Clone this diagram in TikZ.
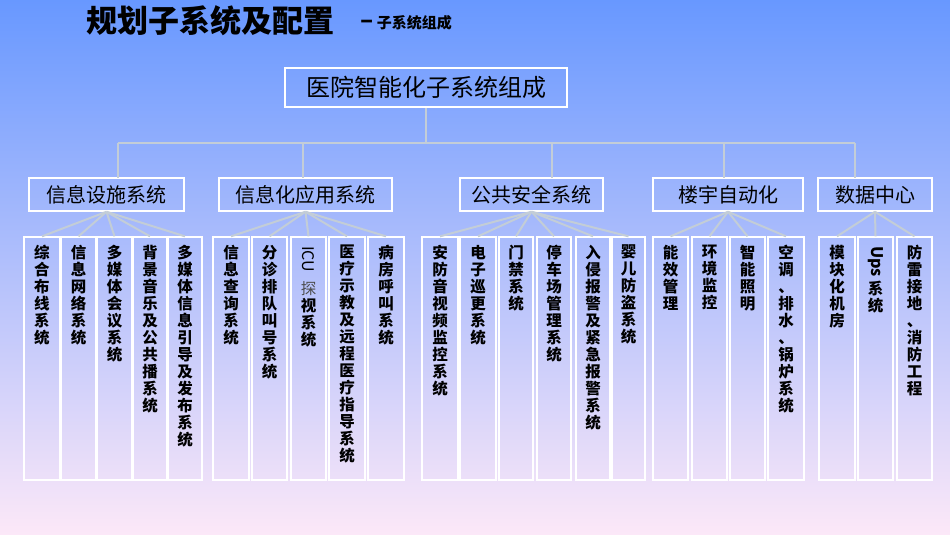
\documentclass[tikz,border=0pt]{standalone}
\usepackage{fontspec}
\setmainfont{Noto Sans CJK SC}
\definecolor{bgtop}{RGB}{104,152,255}
\definecolor{bgbot}{RGB}{252,232,248}
\definecolor{fan}{RGB}{195,205,215}
\begin{document}
\begin{tikzpicture}[x=1pt,y=-1pt,
  conn/.style={draw=fan,line width=2pt},
  rootbox/.style={draw=white,line width=1.5pt,inner sep=0pt,font=\fontsize{24}{26}\selectfont},
  midbox/.style={draw=white,line width=1.5pt,inner sep=0pt,font=\fontsize{20}{22}\selectfont},
  leafbox/.style={draw=white,line width=1.3pt},
  leaftext/.style={anchor=north,align=center,inner sep=0pt,font=\fontsize{15.5}{17}\selectfont\bfseries},
  rottext/.style={anchor=west,rotate=-90,inner sep=0pt,font=\fontsize{16}{16}\selectfont}]
\shade[top color=bgtop,bottom color=bgbot] (0,0) rectangle (950,535);
\useasboundingbox (0,0) rectangle (950,535);
\node[anchor=west,inner sep=0pt,font=\fontsize{31}{33}\selectfont\bfseries] (title) at (86,21) {规划子系统及配置};
\node[anchor=west,inner sep=0pt,font=\fontsize{15}{17}\selectfont\bfseries] (sub) at (360,23) {{\fontsize{24}{24}\selectfont –}\ 子系统组成};
% root
\node[rootbox,minimum width=282,minimum height=39] (root) at (426,87.5) {医院智能化子系统组成};
\coordinate (bl) at (118,143); \coordinate (br) at (855,143);
\draw[conn] (root.south) -- (426,143);
\draw[conn] (bl) -- (br);
% mid boxes
\node[midbox,minimum width=155,minimum height=33] (m1) at (106.5,194.5) {信息设施系统};
\node[midbox,minimum width=173,minimum height=33] (m2) at (305.5,194.5) {信息化应用系统};
\node[midbox,minimum width=143,minimum height=33] (m3) at (531.5,194.5) {公共安全系统};
\node[midbox,minimum width=150,minimum height=33] (m4) at (728,194.5) {楼宇自动化};
\node[midbox,minimum width=114,minimum height=33] (m5) at (875,194.5) {数据中心};
\foreach \x in {118,303,552,724,855} \draw[conn] (\x,143) -- (\x,177.5);
% leaves
\newcommand\leaf[5]{% name, left, right, text top, text
  \node[leafbox,minimum width={#3-#2},minimum height=243,inner sep=0pt] (#1) at ({(#2+#3)/2},358.5) {};
  \node[leaftext] (#1t) at ({(#2+#3)/2},#4) {#5};}
\leaf{a1}{24}{60}{245}{综\\合\\布\\线\\系\\统}
\leaf{a2}{61}{96}{245}{信\\息\\网\\络\\系\\统}
\leaf{a3}{97}{132}{245}{多\\媒\\体\\会\\议\\系\\统}
\leaf{a4}{133}{167}{245}{背\\景\\音\\乐\\及\\公\\共\\播\\系\\统}
\leaf{a5}{168}{202}{245}{多\\媒\\体\\信\\息\\引\\导\\及\\发\\布\\系\\统}
\leaf{b1}{213}{249}{245}{信\\息\\查\\询\\系\\统}
\leaf{b2}{252}{287}{245}{分\\诊\\排\\队\\叫\\号\\系\\统}
\leaf{b3}{291}{326}{281}{\mdseries\color{gray!60!black}探\\视\\系\\统}
\node[rottext] (b3r) at (b3t.north |- 0,246) {ICU};
\leaf{b4}{329}{365}{245}{医\\疗\\示\\教\\及\\远\\程\\医\\疗\\指\\导\\系\\统}
\leaf{b5}{368}{404}{245}{病\\房\\呼\\叫\\系\\统}
\leaf{c1}{422}{458}{245}{安\\防\\音\\视\\频\\监\\控\\系\\统}
\leaf{c2}{460}{496}{245}{电\\子\\巡\\更\\系\\统}
\leaf{c3}{499}{533}{245}{门\\禁\\系\\统}
\leaf{c4}{537}{571}{245}{停\\车\\场\\管\\理\\系\\统}
\leaf{c5}{576}{610}{245}{入\\侵\\报\\警\\及\\紧\\急\\报\\警\\系\\统}
\leaf{c6}{612}{645}{245}{婴\\儿\\防\\盗\\系\\统}
\leaf{d1}{653}{688}{245}{能\\效\\管\\理}
\leaf{d2}{692}{727}{245}{环\\境\\监\\控}
\leaf{d3}{730}{765}{245}{智\\能\\照\\明}
\leaf{d4}{768}{804}{245}{空\\调\\、\\排\\水\\、\\锅\\炉\\系\\统}
\leaf{e1}{819}{855}{245}{模\\块\\化\\机\\房}
\leaf{e2}{858}{893}{281}{系\\统}
\node[rottext,font=\fontsize{16}{16}\selectfont\bfseries] (e2r) at (e2t.north |- 0,246) {Ups};
\leaf{e3}{897}{932}{245}{防\\雷\\接\\地\\、\\消\\防\\工\\程}
\foreach \l in {a1,a2,a3,a4,a5} \draw[conn] (m1.south) -- (\l.north);
\foreach \l in {b1,b2,b3,b4,b5} \draw[conn] (m2.south) -- (\l.north);
\foreach \l in {c1,c2,c3,c4,c5,c6} \draw[conn] (m3.south) -- (\l.north);
\foreach \l in {d1,d2,d3,d4} \draw[conn] (m4.south) -- (\l.north);
\foreach \l in {e1,e2,e3} \draw[conn] (m5.south) -- (\l.north);
\end{tikzpicture}
\end{document}
